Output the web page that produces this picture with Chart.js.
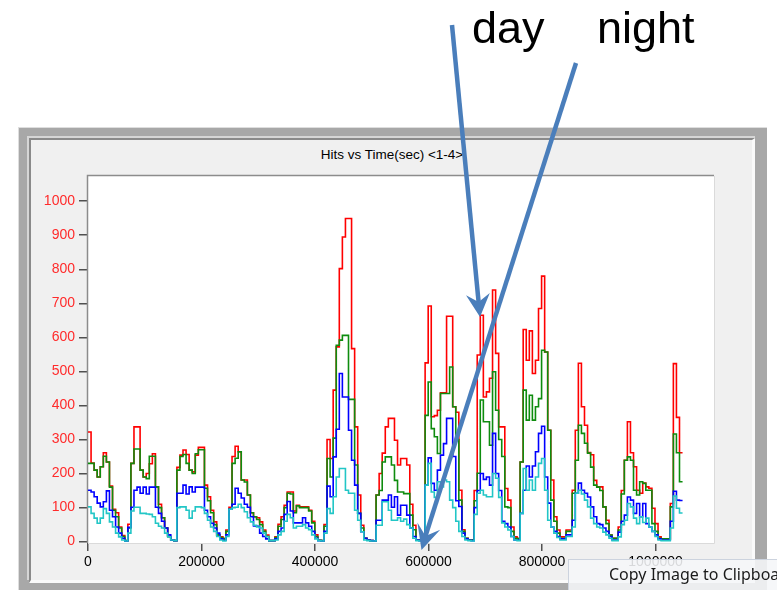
<!DOCTYPE html>
<html>
<head>
<meta charset="utf-8">
<script src="https://cdn.jsdelivr.net/npm/chart.js@4.4.1/dist/chart.umd.min.js"></script>
<style>
    html, body { margin: 0; padding: 0; background: #ffffff; }
    body { width: 777px; height: 590px; position: relative; overflow: hidden; font-family: "Liberation Sans", Arial, sans-serif; }
    #frame { position: absolute; left: 18px; top: 127px; width: 749px; height: 480px; background: #a8a8a8; border-left: 1px solid #dedede; border-top: 1px solid #dedede; box-sizing: border-box; }
    #bevel { position: absolute; left: 27px; top: 136px; width: 728px; height: 444px; background: #d6d6d6; }
    #panel { position: absolute; left: 29px; top: 138px; width: 726px; height: 445px; background: #f0f0f0; border-left: 2px solid #8a8a8a; border-top: 2px solid #8a8a8a; border-right: 3px solid #fafafa; border-bottom: 3px solid #fafafa; box-sizing: border-box; }
    #chart { position: absolute; left: 31px; top: 141px; }
    #title { position: absolute; left: 242px; top: 147px; width: 300px; text-align: center; font-size: 13.5px; line-height: 16px; color: #000; }
    #popup { position: absolute; left: 568px; top: 559px; width: 240px; height: 34px; box-sizing: border-box; background: rgba(245, 246, 248, 0.88); border: 1px solid #ccd3de; font-family: "Noto Sans", sans-serif; font-size: 16px; color: #1a1a1a; padding: 3px 0 0 40px; white-space: nowrap; }
    #notes { position: absolute; left: 0; top: 0; }
</style>
</head>
<body>
<div id="frame"></div>
<div id="bevel"></div>
<div id="panel"></div>
<div id="title">Hits vs Time(sec) &lt;1-4&gt;</div>
<canvas id="chart" width="722" height="439"></canvas>
<div id="popup">Copy Image to Clipboard</div>
<svg id="notes" width="777" height="590">
    <text x="472" y="43" font-family="Liberation Sans, Arial" font-size="45" fill="#000">day</text>
    <text x="597" y="43" font-family="Liberation Sans, Arial" font-size="45" fill="#000">night</text>
    <g stroke="#4a7ebb" stroke-width="4.5" fill="#4a7ebb" stroke-linecap="butt">
        <line x1="452" y1="25" x2="478.6" y2="302"></line>
        <path d="M480,317 L489.8,293 L478.6,302 L466,295.3 Z" stroke="none"></path>
        <line x1="576" y1="63" x2="425.5" y2="536"></line>
        <path d="M421.5,550 L440.2,529.7 L425.5,536 L417.4,522.5 Z" stroke="none"></path>
    </g>
</svg>

<script>

// one bin = 5400 s, one row = one day
const binSeconds = 5400;

const redHits = [
    322, 231, 210, 190, 220, 261, 234, 163, 95, 85, 43, 18, 3, 51,
    230, 337, 337, 210, 190, 200, 229, 258, 161, 110, 70, 40, 15, 5, 3, 218,
    254, 269, 256, 210, 205, 254, 277, 277, 166, 132, 92, 58, 19, 14, 10, 34, 101,
    250, 280, 264, 181, 181, 137, 85, 73, 70, 58, 34, 19, 3, 3, 14, 51,
    73, 107, 146, 146, 90, 107, 102, 102, 102, 92, 60, 20, 4, 3, 50,
    300, 244, 445, 572, 802, 895, 949, 949, 567, 337, 137, 48, 10, 5, 3, 2,
    137, 200, 260, 337, 362, 362, 298, 225, 244, 244, 225, 110, 48, 5, 5, 3,
    525, 692, 367, 370, 386, 437, 437, 662, 662, 396, 380, 151, 35, 10, 5, 5,
    150, 548, 665, 425, 440, 480, 739, 553, 337, 337, 156, 122, 43, 14, 10,
    234, 623, 533, 619, 494, 533, 685, 780, 557, 327, 181, 73, 34, 14, 14, 34,
    34, 151, 327, 524, 396, 342, 262, 255, 180, 161, 161, 102, 63, 19, 10, 10,
    43, 150, 239, 352, 261, 220, 151, 142, 172, 161, 157, 98, 53, 14, 8, 8, 8,
    112, 523, 365, 261
];

const greenHits = [
    230, 230, 210, 190, 220, 251, 234, 160, 92, 73, 40, 15, 3, 40,
    230, 272, 272, 210, 190, 185, 251, 251, 161, 100, 70, 40, 15, 5, 3, 210,
    250, 256, 230, 210, 200, 258, 270, 270, 157, 120, 85, 50, 20, 12, 8, 30, 95,
    230, 245, 264, 181, 175, 137, 85, 73, 65, 50, 30, 15, 3, 3, 12, 45,
    65, 100, 142, 140, 85, 105, 100, 100, 100, 90, 55, 15, 4, 3, 45,
    244, 190, 304, 577, 592, 606, 606, 418, 418, 225, 83, 40, 10, 5, 3, 2,
    137, 150, 234, 249, 249, 225, 180, 146, 146, 141, 141, 78, 35, 5, 5, 3,
    371, 469, 332, 308, 259, 435, 435, 435, 513, 396, 300, 122, 30, 10, 5, 5,
    120, 201, 416, 352, 352, 283, 499, 386, 300, 250, 102, 100, 30, 10, 8,
    234, 445, 357, 430, 357, 396, 420, 562, 557, 327, 122, 60, 25, 10, 10, 30,
    30, 142, 239, 342, 318, 289, 260, 219, 166, 160, 150, 102, 53, 19, 10, 10,
    34, 140, 239, 249, 239, 151, 137, 176, 171, 151, 151, 53, 30, 10, 8, 8, 8,
    102, 316, 261, 176
];

const blueHits = [
    151, 146, 132, 113, 102, 117, 149, 92, 73, 43, 25, 10, 2, 42,
    101, 151, 160, 142, 160, 140, 160, 160, 101, 83, 60, 40, 20, 5, 3, 142,
    142, 166, 140, 161, 146, 160, 160, 160, 92, 73, 54, 40, 25, 8, 4, 20, 95,
    110, 157, 142, 128, 110, 101, 73, 46, 45, 25, 15, 8, 3, 3, 8, 30,
    40, 80, 118, 90, 55, 55, 55, 70, 55, 45, 30, 10, 3, 2, 30,
    163, 132, 249, 330, 494, 425, 425, 327, 239, 166, 83, 29, 10, 5, 3, 2,
    63, 63, 122, 122, 137, 101, 132, 78, 107, 107, 78, 40, 15, 5, 3, 2,
    166, 246, 171, 151, 210, 254, 288, 362, 362, 250, 120, 103, 25, 8, 4, 3,
    100, 150, 200, 183, 190, 166, 318, 200, 150, 60, 53, 43, 15, 5, 5,
    83, 151, 222, 190, 222, 264, 318, 339, 190, 113, 43, 30, 15, 8, 8, 20,
    20, 63, 142, 172, 151, 142, 131, 102, 73, 53, 50, 40, 30, 15, 5, 5,
    28, 60, 78, 131, 122, 83, 112, 73, 112, 53, 43, 30, 20, 8, 5, 5, 5,
    60, 148, 122, 121
];

const cyanHits = [
    102, 83, 69, 54, 69, 97, 83, 58, 43, 25, 14, 5, 2, 25,
    90, 101, 101, 83, 83, 81, 80, 73, 54, 45, 40, 25, 14, 5, 3, 100,
    102, 102, 92, 69, 90, 102, 102, 100, 83, 63, 43, 30, 15, 5, 2, 15, 95,
    100, 101, 110, 100, 88, 70, 58, 48, 43, 40, 25, 15, 3, 3, 5, 20,
    30, 60, 80, 70, 40, 45, 45, 50, 40, 35, 20, 8, 3, 2, 25,
    97, 83, 132, 190, 215, 215, 151, 142, 142, 92, 63, 29, 5, 3, 2, 2,
    48, 48, 117, 117, 92, 63, 63, 70, 60, 66, 50, 40, 10, 3, 2, 2,
    166, 230, 146, 130, 176, 161, 181, 176, 122, 100, 60, 30, 15, 5, 3, 2,
    80, 142, 151, 137, 132, 132, 200, 186, 130, 55, 43, 34, 15, 5, 3,
    83, 215, 151, 181, 151, 190, 230, 244, 151, 63, 43, 25, 12, 5, 5, 15,
    15, 43, 142, 151, 140, 122, 102, 69, 53, 43, 40, 28, 20, 10, 3, 3,
    14, 50, 63, 112, 102, 69, 53, 73, 56, 69, 43, 30, 15, 5, 3, 3, 3,
    40, 134, 98, 84
];

const xTicks = [0, 200000, 400000, 600000, 800000, 1000000];
const yTicks = [0, 100, 200, 300, 400, 500, 600, 700, 800, 900, 1000];


function toSteps(values) {

    const points = values.map((v, i) => ({ x: i * binSeconds, y: v }));

    // close the last bin
    points.push({ x: values.length * binSeconds, y: values[values.length - 1] });

    return points;
}


function lineSet(label, values, color, order) {

    return {
        label: label,
        data: toSteps(values),
        borderColor: color,
        borderWidth: 1.6,
        pointRadius: 0,
        stepped: true,
        fill: false,
        order: order
    };
}


const plotFrame = {

    id: "plotFrame",

    beforeDatasetsDraw(chart) {

        const a = chart.chartArea;
        const ctx = chart.ctx;

        ctx.save();
        ctx.fillStyle = "#ffffff";
        ctx.fillRect(a.left, a.top, a.right - a.left, a.bottom - a.top);

        ctx.strokeStyle = "#dadada";
        ctx.lineWidth = 1;
        ctx.beginPath();
        ctx.moveTo(a.right + 0.5, a.top);
        ctx.lineTo(a.right + 0.5, a.bottom + 0.5);
        ctx.lineTo(a.left, a.bottom + 0.5);
        ctx.stroke();

        ctx.strokeStyle = "#8c8c8c";
        ctx.lineWidth = 1.5;
        ctx.beginPath();
        ctx.moveTo(a.left - 0.5, a.bottom);
        ctx.lineTo(a.left - 0.5, a.top - 0.5);
        ctx.lineTo(a.right, a.top - 0.5);
        ctx.stroke();
        ctx.restore();
    }
};


const axisFont = { family: "Liberation Sans", size: 14 };

new Chart(document.getElementById("chart"), {

    type: "line",

    data: {
        datasets: [
            lineSet("1", redHits, "#ff0000", 4),
            lineSet("2", greenHits, "#0e8c0e", 3),
            lineSet("3", blueHits, "#0000ff", 2),
            lineSet("4", cyanHits, "#22c6c6", 1)
        ]
    },

    options: {

        responsive: false,
        animation: false,
        events: [],

        layout: {
            padding: { left: 0, right: 39, top: 35, bottom: 0 }
        },

        plugins: {
            legend: { display: false },
            tooltip: { enabled: false },
            title: { display: false }
        },

        scales: {

            x: {
                type: "linear",
                min: 0,
                max: 1103000,
                afterFit(scale) { scale.height = 37; },
                afterBuildTicks(scale) { scale.ticks = xTicks.map(v => ({ value: v })); },
                grid: { drawOnChartArea: false, tickLength: 8, color: "#505050", lineWidth: 1.5 },
                border: { display: false },
                ticks: {
                    color: "#000000",
                    font: axisFont,
                    padding: 3,
                    maxRotation: 0,
                    autoSkip: false,
                    callback: v => String(v)
                }
            },

            y: {
                min: -4,
                max: 1074,
                afterFit(scale) { scale.width = 57; },
                afterBuildTicks(scale) { scale.ticks = yTicks.map(v => ({ value: v })); },
                grid: { drawOnChartArea: false, tickLength: 9, color: "#505050", lineWidth: 1.5 },
                border: { display: false },
                ticks: {
                    color: "#ff2b2b",
                    font: axisFont,
                    padding: 4,
                    autoSkip: false,
                    callback: v => String(v)
                }
            }

        }

    },

    plugins: [plotFrame]

});

</script>
</body>
</html>
